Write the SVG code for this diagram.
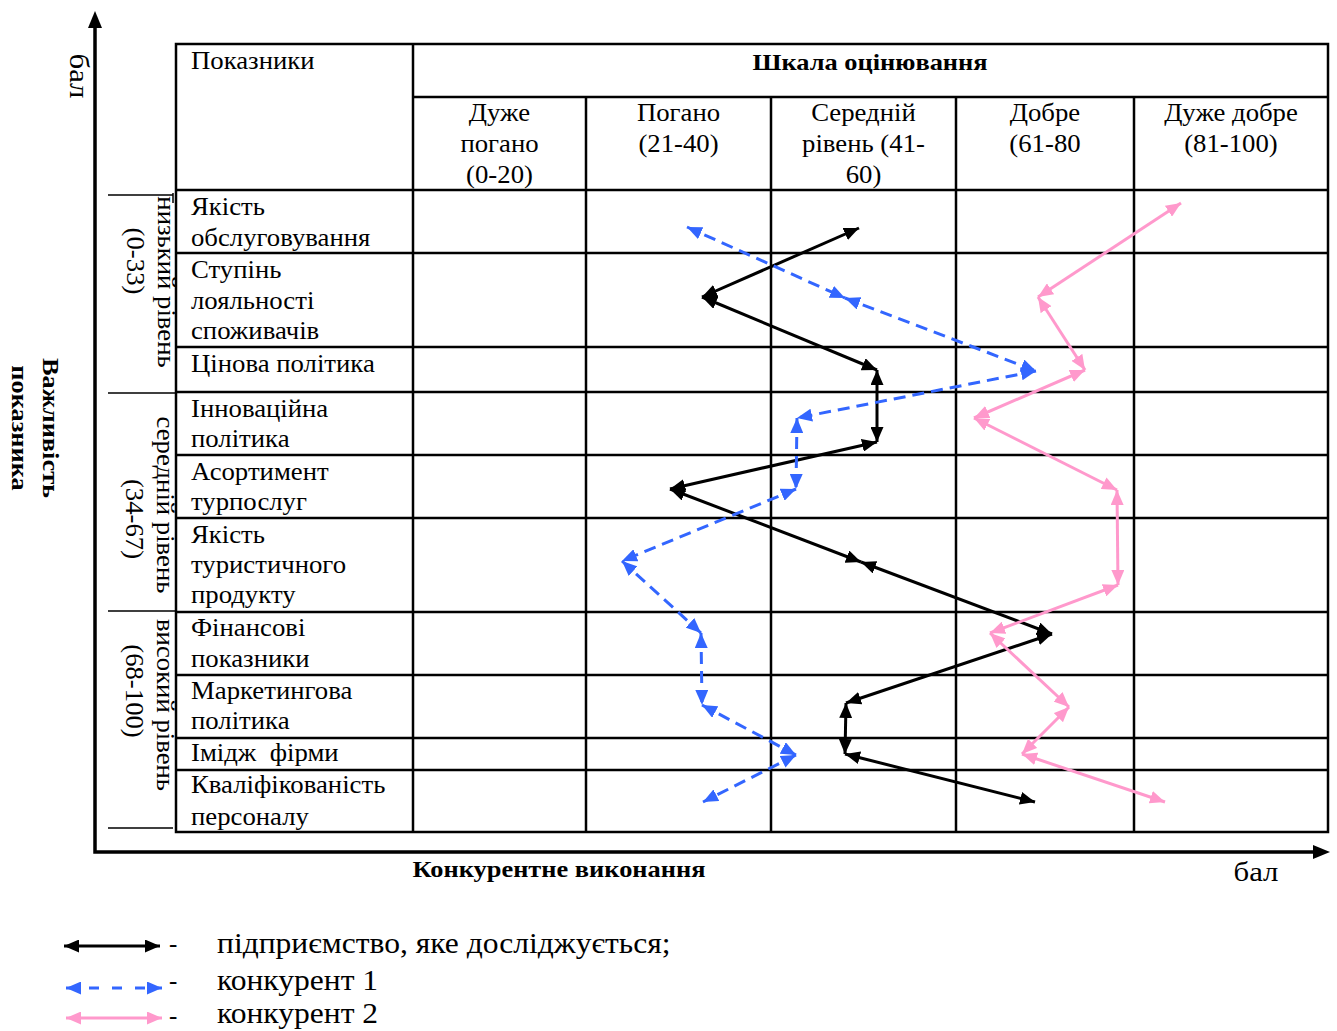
<svg xmlns="http://www.w3.org/2000/svg" width="1337" height="1031" viewBox="0 0 1337 1031">
  <style>
    .t { font-family: "Liberation Serif", "Times New Roman", serif; font-size: 25px; fill: #000; }
    .b { font-weight: bold; font-size: 24px; }
    .sx { transform-box: fill-box; transform-origin: left center; transform: scaleX(1.07); }
    .sc { text-anchor: middle; transform-box: fill-box; transform-origin: center; transform: scaleX(1.07); }
    .sb { text-anchor: middle; transform-box: fill-box; transform-origin: center; transform: scaleX(1.1); }
    .lg { font-size: 29.5px; }
    .grid { stroke: #000; stroke-width: 2.5; fill: none; }
    .brk { stroke: #000; stroke-width: 1.5; fill: none; }
    .axis { stroke: #000; stroke-width: 3.5; fill: none; }
    .own { stroke: #000; stroke-width: 3; fill: none; marker-start: url(#hk); marker-end: url(#hk); }
    .c1 { stroke: #3366ff; stroke-width: 3; stroke-dasharray: 12 7; fill: none; marker-start: url(#hb); marker-end: url(#hb); }
    .c2 { stroke: #ff99cc; stroke-width: 3; fill: none; marker-start: url(#hp); marker-end: url(#hp); }
  </style>
  <defs>
    <marker id="hk" markerUnits="userSpaceOnUse" markerWidth="15" markerHeight="13" refX="15" refY="6.5" orient="auto-start-reverse">
      <path d="M0,0 L15,6.5 L0,13 z" fill="#000"/>
    </marker>
    <marker id="hb" markerUnits="userSpaceOnUse" markerWidth="15" markerHeight="13" refX="15" refY="6.5" orient="auto-start-reverse">
      <path d="M0,0 L15,6.5 L0,13 z" fill="#3366ff"/>
    </marker>
    <marker id="hp" markerUnits="userSpaceOnUse" markerWidth="15" markerHeight="13" refX="15" refY="6.5" orient="auto-start-reverse">
      <path d="M0,0 L15,6.5 L0,13 z" fill="#ff99cc"/>
    </marker>
  </defs>
  <rect width="1337" height="1031" fill="#fff"/>

  <!-- axes -->
  <g id="axes">
    <path class="axis" d="M95,26 V852 H1314"/>
    <polygon points="95,11 88,28 102,28" fill="#000"/>
    <polygon points="1330,852 1313,845 1313,859" fill="#000"/>
    <text class="t" transform="translate(70,76) rotate(90) scale(1.1,1)" text-anchor="middle" style="font-size:28px">бал</text>
    <text class="t sb" x="1256" y="881" style="font-size:28px">бал</text>
    <text class="t b sb" x="559" y="877">Конкурентне виконання</text>
    <text class="t b" transform="translate(43,428) rotate(90) scale(1.1,1)" text-anchor="middle">Важливість</text>
    <text class="t b" transform="translate(12,428) rotate(90) scale(1.1,1)" text-anchor="middle">показника</text>
  </g>

  <!-- importance bands -->
  <g id="bands">
    <path class="brk" d="M108,195 H173 M173,193 V203 M108,393 H176 M108,611 H176 M108,828 H173"/>
    <text class="t" transform="translate(158,282) rotate(90) scale(1.07,1)" text-anchor="middle">низький рівень</text>
    <text class="t" transform="translate(127,261) rotate(90) scale(1.07,1)" text-anchor="middle">(0-33)</text>
    <text class="t" transform="translate(157,505) rotate(90) scale(1.07,1)" text-anchor="middle">середній рівень</text>
    <text class="t" transform="translate(126,519) rotate(90) scale(1.07,1)" text-anchor="middle">(34-67)</text>
    <text class="t" transform="translate(157,705) rotate(90) scale(1.07,1)" text-anchor="middle">високий рівень</text>
    <text class="t" transform="translate(126,691) rotate(90) scale(1.07,1)" text-anchor="middle">(68-100)</text>
  </g>

  <!-- table grid -->
  <g id="table">
    <rect class="grid" x="176" y="44" width="1152" height="788"/>
    <path class="grid" d="M413,44 V832 M413,97 H1328 M586,97 V832 M771,97 V832 M956,97 V832 M1134,97 V832
      M176,190 H1328 M176,253 H1328 M176,347 H1328 M176,392 H1328 M176,455 H1328 M176,518 H1328
      M176,612 H1328 M176,675 H1328 M176,738 H1328 M176,770 H1328"/>
  </g>

  <!-- header -->
  <g id="header">
    <text class="t sx" x="191" y="69">Показники</text>
    <text class="t b sb" x="870" y="70">Шкала оцінювання</text>
    <text class="t sc" x="499.5" y="121">Дуже</text>
    <text class="t sc" x="499.5" y="152">погано</text>
    <text class="t sc" x="499.5" y="183">(0-20)</text>
    <text class="t sc" x="678.5" y="121">Погано</text>
    <text class="t sc" x="678.5" y="152">(21-40)</text>
    <text class="t sc" x="863.5" y="121">Середній</text>
    <text class="t sc" x="863.5" y="152">рівень (41-</text>
    <text class="t sc" x="863.5" y="183">60)</text>
    <text class="t sc" x="1045" y="121">Добре</text>
    <text class="t sc" x="1045" y="152">(61-80</text>
    <text class="t sc" x="1231" y="121">Дуже добре</text>
    <text class="t sc" x="1231" y="152">(81-100)</text>
  </g>

  <!-- indicator rows -->
  <g id="rows">
    <g id="row-service"><text class="t sx" x="191" y="215">Якість</text><text class="t sx" x="191" y="246">обслуговування</text></g>
    <g id="row-loyalty"><text class="t sx" x="191" y="278">Ступінь</text><text class="t sx" x="191" y="309">лояльності</text><text class="t sx" x="191" y="339">споживачів</text></g>
    <g id="row-price"><text class="t sx" x="191" y="372">Цінова політика</text></g>
    <g id="row-innovation"><text class="t sx" x="191" y="417">Інноваційна</text><text class="t sx" x="191" y="447">політика</text></g>
    <g id="row-assortment"><text class="t sx" x="191" y="480">Асортимент</text><text class="t sx" x="191" y="510">турпослуг</text></g>
    <g id="row-product"><text class="t sx" x="191" y="543">Якість</text><text class="t sx" x="191" y="573">туристичного</text><text class="t sx" x="191" y="603">продукту</text></g>
    <g id="row-finance"><text class="t sx" x="191" y="636">Фінансові</text><text class="t sx" x="191" y="667">показники</text></g>
    <g id="row-marketing"><text class="t sx" x="191" y="699">Маркетингова</text><text class="t sx" x="191" y="729">політика</text></g>
    <g id="row-image"><text class="t sx" x="191" y="761" xml:space="preserve">Імідж  фірми</text></g>
    <g id="row-staff"><text class="t sx" x="191" y="793">Кваліфікованість</text><text class="t sx" x="191" y="825">персоналу</text></g>
  </g>

  <!-- profile connectors -->
  <g id="connectors">
    <g id="own-profile">
      <line class="own" x1="859" y1="228" x2="702" y2="297"/>
      <line class="own" x1="702" y1="297" x2="877" y2="370"/>
      <line class="own" x1="877" y1="370" x2="877" y2="442"/>
      <line class="own" x1="877" y1="442" x2="670" y2="489"/>
      <line class="own" x1="670" y1="489" x2="861" y2="562"/>
      <line class="own" x1="861" y1="562" x2="1052" y2="634"/>
      <line class="own" x1="1052" y1="634" x2="846" y2="703"/>
      <line class="own" x1="846" y1="703" x2="845" y2="754"/>
      <line class="own" x1="845" y1="754" x2="1035" y2="802"/>
    </g>
    <g id="competitor-1">
      <line class="c1" x1="687" y1="227" x2="845" y2="298"/>
      <line class="c1" x1="845" y1="298" x2="1036" y2="371"/>
      <line class="c1" x1="1036" y1="371" x2="797" y2="418"/>
      <line class="c1" x1="797" y1="418" x2="796" y2="489"/>
      <line class="c1" x1="796" y1="489" x2="622" y2="561"/>
      <line class="c1" x1="622" y1="561" x2="701" y2="633"/>
      <line class="c1" x1="701" y1="633" x2="702" y2="705"/>
      <line class="c1" x1="702" y1="705" x2="796" y2="755"/>
      <line class="c1" x1="796" y1="755" x2="703" y2="802"/>
    </g>
    <g id="competitor-2">
      <line class="c2" x1="1181" y1="203" x2="1038" y2="297"/>
      <line class="c2" x1="1038" y1="297" x2="1085" y2="370"/>
      <line class="c2" x1="1085" y1="370" x2="974" y2="418"/>
      <line class="c2" x1="974" y1="418" x2="1117" y2="490"/>
      <line class="c2" x1="1117" y1="490" x2="1118" y2="585"/>
      <line class="c2" x1="1118" y1="585" x2="990" y2="633"/>
      <line class="c2" x1="990" y1="633" x2="1069" y2="707"/>
      <line class="c2" x1="1069" y1="707" x2="1022" y2="754"/>
      <line class="c2" x1="1022" y1="754" x2="1165" y2="802"/>
    </g>
  </g>

  <!-- legend -->
  <g id="legend">
    <line class="own" x1="64" y1="946" x2="160" y2="946"/>
    <text class="t" x="169" y="952">-</text>
    <text class="t lg sx" x="217" y="953">підприємство, яке досліджується;</text>
    <line class="c1" x1="66" y1="988" x2="162" y2="988" style="stroke-dasharray:10 13"/>
    <text class="t" x="169" y="989">-</text>
    <text class="t lg sx" x="217" y="990">конкурент 1</text>
    <line class="c2" x1="66" y1="1018" x2="162" y2="1018"/>
    <text class="t" x="169" y="1024">-</text>
    <text class="t lg sx" x="217" y="1023">конкурент 2</text>
  </g>
</svg>
